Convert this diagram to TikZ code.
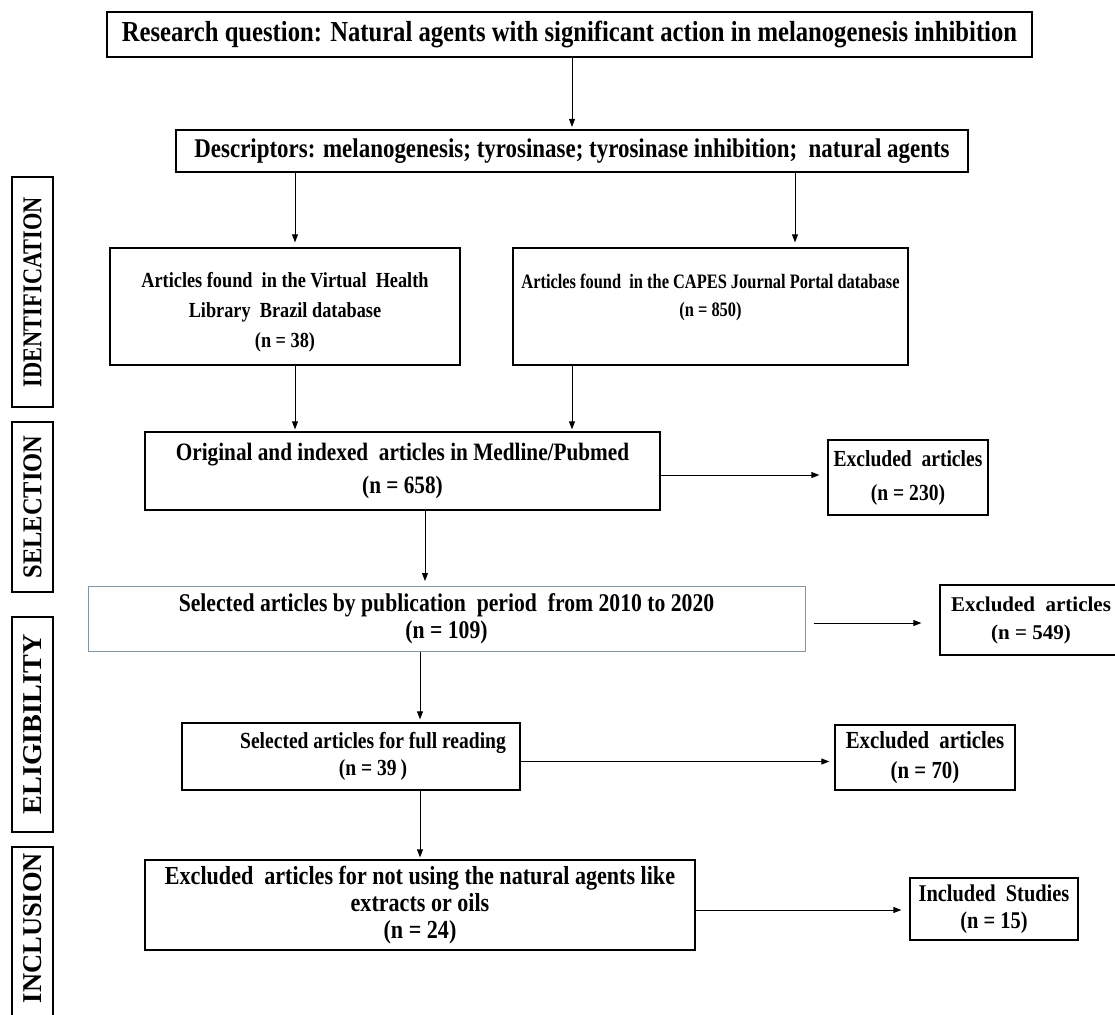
\documentclass[tikz,border=0pt]{standalone}
\usepackage{fontspec}
\setmainfont{Liberation Serif}
\newfontfamily\condf{Liberation Serif}[FakeStretch=0.85]
\newfontfamily\condg{Liberation Serif}[FakeStretch=0.8]
\usetikzlibrary{arrows.meta}
\definecolor{bluegray}{RGB}{125,150,170}
\begin{document}
\begin{tikzpicture}[x=1pt,y=-1pt,
  box/.style={draw=black, line width=1.3pt, inner sep=0pt, align=center},
  thickbox/.style={box, line width=2.2pt},
  txt/.style={inner sep=0pt, align=center},
  lab/.style={draw=black, line width=1.2pt, inner sep=0pt, rotate=90, minimum height=41pt,
    font=\bfseries\fontsize{22}{26}\selectfont},
  labtext/.style={inner sep=0pt, rotate=90, font=\bfseries\fontsize{22}{26}\selectfont},
  arr/.style={-{Triangle[length=8pt,width=6pt]}, line width=0.9pt}
]
\useasboundingbox (0,0) rectangle (1115,1014);
\fill[white] (0,0) rectangle (1115,1014);

% side labels
\node[lab, minimum width=230pt] (lid) at (32.5,292) {\resizebox{190pt}{18pt}{IDENTIFICATION}};
\node[lab, minimum width=170pt] (lsel) at (32.5,507) {\resizebox{143pt}{18pt}{SELECTION}};
\node[lab, minimum width=215pt] (lel) at (32.5,724.5) {\resizebox{180pt}{18pt}{ELIGIBILITY}};
\node[lab, minimum width=180pt] (lin) at (32.5,937) {};
\node[labtext] (lint) at (32.5,928) {\resizebox{150pt}{18pt}{INCLUSION}};

% boxes
\node[thickbox, font=\condf\bfseries\fontsize{29}{34}\selectfont, minimum width=925pt, minimum height=45pt] (rq) at (569.5,34.5)
  {Research question: Natural agents with significant action in melanogenesis inhibition};
\node[thickbox, font=\condf\bfseries\fontsize{27}{30}\selectfont, minimum width=792pt, minimum height=42pt] (desc) at (572,151)
  {Descriptors: melanogenesis; tyrosinase; tyrosinase inhibition;\ \ natural agents};
\node[box, minimum width=350pt, minimum height=117pt] (vhl) at (285,306.5) {};
\node[txt, font=\condf\bfseries\fontsize{21.5}{30}\selectfont] (vhlt) at ([yshift=-6pt]vhl.center)
  {Articles found\ \ in the Virtual\ \ Health\\Library\ \ Brazil database\\(n = 38)};
\node[box, minimum width=395pt, minimum height=117pt] (capes) at (710.5,306.5) {};
\node[txt, font=\condg\bfseries\fontsize{20.5}{28}\selectfont] (capest) at ([yshift=9pt]capes.center)
  {Articles found\ \ in the CAPES Journal Portal database\\(n = 850)};
\node[box, font=\condf\bfseries\fontsize{25}{33}\selectfont, minimum width=515pt, minimum height=78pt] (med) at (402.5,471)
  {Original and indexed\ \ articles in Medline/Pubmed\\(n = 658)};
\node[box, font=\condf\bfseries\fontsize{23}{34}\selectfont, minimum width=160pt, minimum height=75pt] (ex1) at (908,477.5)
  {Excluded\ \ articles\\(n = 230)};
\node[box, draw=bluegray, line width=1pt, font=\condf\bfseries\fontsize{25.5}{27}\selectfont, minimum width=717pt, minimum height=65pt] (per) at (446.5,619)
  {Selected articles by publication\ \ period\ \ from 2010 to 2020\\(n = 109)};
\node[box, font=\bfseries\fontsize{21}{28}\selectfont, minimum width=182pt, minimum height=70pt] (ex2) at (1031,620)
  {Excluded\ \ articles\\(n = 549)};
\node[box, font=\condf\bfseries\fontsize{23}{27}\selectfont, minimum width=338pt, minimum height=67pt] (full) at (351,756.5)
  {\hspace*{44pt}Selected articles for full reading\\\hspace*{44pt}(n = 39\,)};
\node[box, font=\condf\bfseries\fontsize{24.5}{30}\selectfont, minimum width=180pt, minimum height=65pt] (ex3) at (925,757.5)
  {Excluded\ \ articles\\(n = 70)};
\node[box, font=\condf\bfseries\fontsize{26}{27}\selectfont, minimum width=550pt, minimum height=90pt] (fin) at (420,905)
  {Excluded\ \ articles for not using the natural agents like\\extracts or oils\\(n = 24)};
\node[box, font=\condf\bfseries\fontsize{24}{27}\selectfont, minimum width=168pt, minimum height=62pt] (inc) at (994,909)
  {Included\ \ Studies\\(n = 15)};

% connectors
\draw[arr, shorten >=2pt] ([xshift=2.5pt]rq.south) -- ([xshift=2.5pt]rq.south |- desc.north);
\draw[arr, shorten >=5pt] ([xshift=10pt]vhl.north |- desc.south) -- ([xshift=10pt]vhl.north);
\draw[arr, shorten >=5pt] ([xshift=84.5pt]capes.north |- desc.south) -- ([xshift=84.5pt]capes.north);
\draw[arr, shorten >=2pt] ([xshift=10pt]vhl.south) -- ([xshift=10pt]vhl.south |- med.north);
\draw[arr, shorten >=2pt] ([xshift=-138.5pt]capes.south) -- ([xshift=-138.5pt]capes.south |- med.north);
\draw[arr, shorten >=8pt] ([yshift=-4pt]med.east) -- ([yshift=-4pt]med.east -| ex1.west);
\draw[arr, shorten >=5pt] ([xshift=22.5pt]med.south) -- ([xshift=22.5pt]med.south |- per.north);
\draw[arr, shorten <=8pt, shorten >=18pt] ([yshift=-4pt]per.east) -- ([yshift=-4pt]per.east -| ex2.west);
\draw[arr, shorten >=3pt] ([xshift=-26.5pt]per.south) -- ([xshift=-26.5pt]per.south |- full.north);
\draw[arr, shorten >=5pt] ([yshift=-5pt]full.east) -- ([yshift=-5pt]full.east -| ex3.west);
\draw[arr, shorten >=2pt] ([xshift=69pt]full.south) -- ([xshift=69pt]full.south |- fin.north);
\draw[arr, shorten >=8pt] ([yshift=-5pt]fin.east) -- ([yshift=-5pt]fin.east -| inc.west);
\end{tikzpicture}
\end{document}
